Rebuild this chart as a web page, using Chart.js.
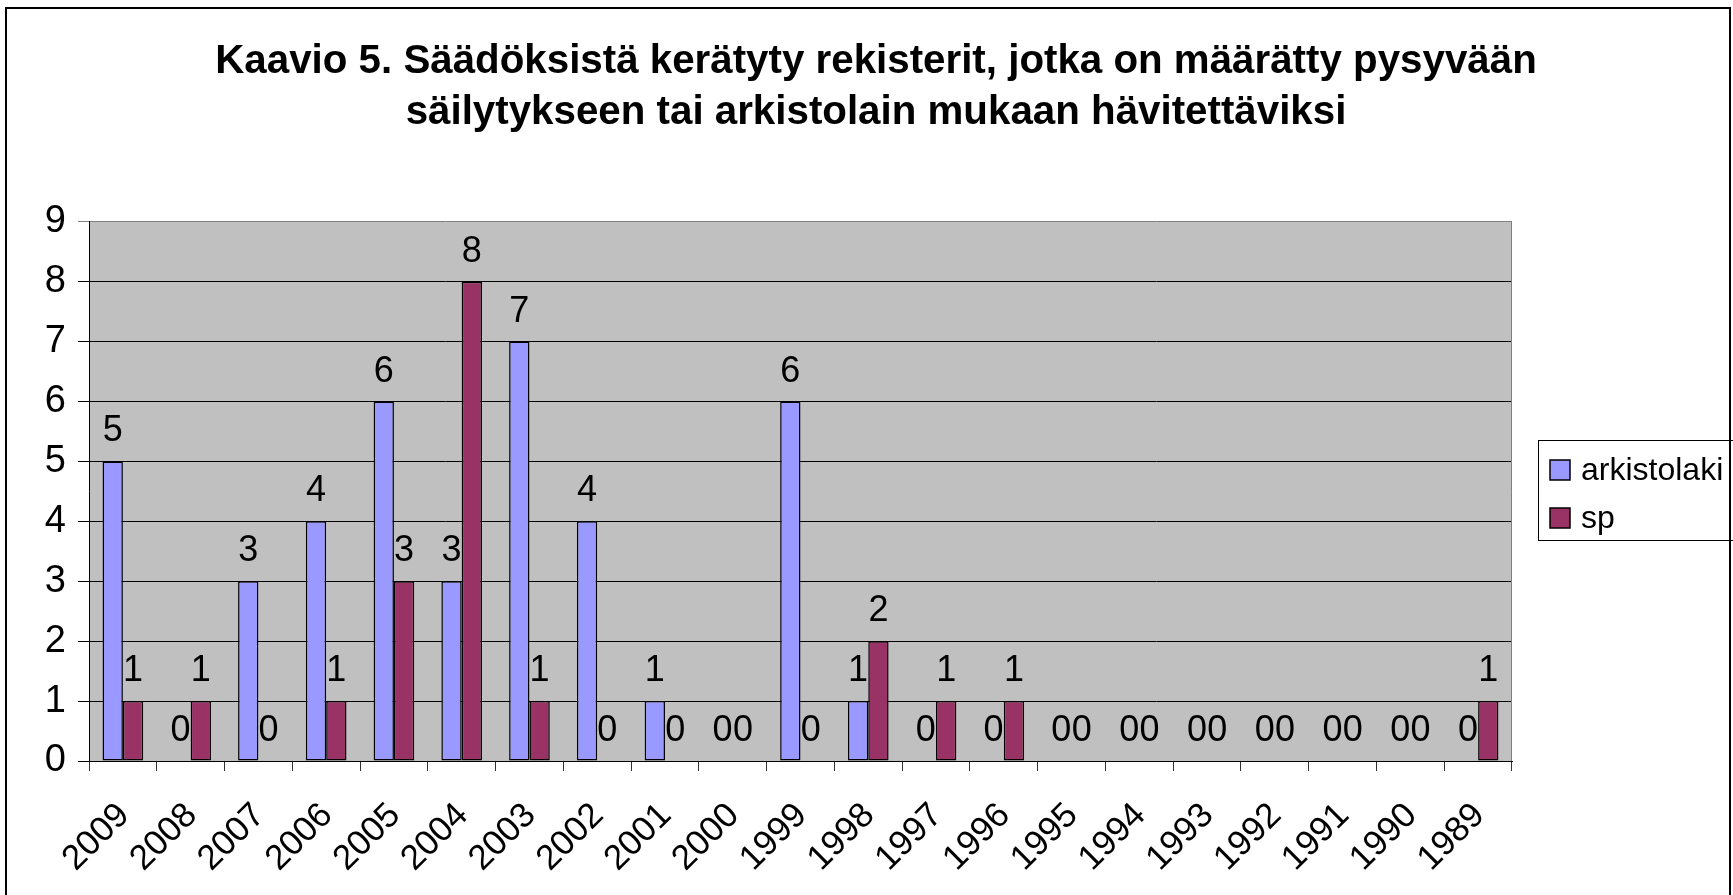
<!DOCTYPE html>
<html>
<head>
<meta charset="utf-8">
<script src="https://cdn.jsdelivr.net/npm/chart.js@4.4.1/dist/chart.umd.min.js"></script>
<style>
html,body{margin:0;padding:0;background:#fff;}
#wrap{width:1733px;height:895px;position:relative;}
canvas{display:block;}
</style>
</head>
<body>
<div id="wrap"><canvas id="c" width="1733" height="895"></canvas></div>
<script>
// ---- data ----
const categories = ['2009','2008','2007','2006','2005','2004','2003','2002','2001','2000','1999','1998','1997','1996','1995','1994','1993','1992','1991','1990','1989'];
const arkistolaki = [5,0,3,4,6,3,7,4,1,0,6,1,0,0,0,0,0,0,0,0,0];
const sp =          [1,1,0,1,3,8,1,0,0,0,0,2,1,1,0,0,0,0,0,0,1];
const seriesNames = ['arkistolaki','sp'];
const seriesColors = ['#9999FF','#993366'];
const yMin = 0, yMax = 9, yStep = 1;
const titleLines = ['Kaavio 5. Säädöksistä kerätyty rekisterit, jotka on määrätty pysyvään','säilytykseen tai arkistolain mukaan hävitettäviksi'];

const FONT = "'Liberation Sans', Arial, sans-serif";

const decorPlugin = {
  id: 'decor',
  beforeDraw(chart) {
    const {ctx, chartArea: a} = chart;
    ctx.save();
    ctx.fillStyle = '#C0C0C0';
    ctx.fillRect(a.left, a.top, a.right - a.left, a.bottom - a.top);
    ctx.restore();
  },
  afterDraw(chart) {
    const {ctx, chartArea: a} = chart;
    ctx.save();
    ctx.strokeStyle = '#808080';
    ctx.lineWidth = 1;
    ctx.beginPath();
    ctx.moveTo(Math.round(a.right) - 0.5, a.top);
    ctx.lineTo(Math.round(a.right) - 0.5, a.bottom);
    ctx.stroke();
    ctx.strokeStyle = '#000';
    ctx.lineWidth = 2;
    ctx.strokeRect(6, 8, 1724, 900);
    ctx.lineWidth = 1;
    ctx.strokeStyle = '#000';
    ctx.strokeRect(1538.5, 440.5, 1192, 100);
    ctx.font = '32px ' + FONT;
    ctx.textAlign = 'left';
    ctx.textBaseline = 'alphabetic';
    const ys = [460, 508];
    chart.data.datasets.forEach((ds, i) => {
      ctx.fillStyle = ds.backgroundColor;
      ctx.fillRect(1550, ys[i], 20, 20);
      ctx.lineWidth = 1.5;
      ctx.strokeStyle = '#000';
      ctx.strokeRect(1550, ys[i], 20, 20);
      ctx.fillStyle = '#000';
      ctx.fillText(ds.label, 1581, ys[i] + 20);
    });
    ctx.restore();
  },
  afterDatasetsDraw(chart) {
    const {ctx} = chart;
    ctx.save();
    ctx.font = '36px ' + FONT;
    ctx.fillStyle = '#000';
    ctx.textAlign = 'center';
    ctx.textBaseline = 'alphabetic';
    chart.data.datasets.forEach((ds, i) => {
      const meta = chart.getDatasetMeta(i);
      meta.data.forEach((bar, j) => {
        ctx.fillText(String(ds.data[j]), bar.x, bar.y - 20);
      });
    });
    ctx.restore();
  }
};

new Chart(document.getElementById('c'), {
  type: 'bar',
  data: {
    labels: categories,
    datasets: [
      {label: seriesNames[0], data: arkistolaki, backgroundColor: seriesColors[0], borderColor: '#000', borderWidth: 1.5, borderSkipped: false},
      {label: seriesNames[1], data: sp, backgroundColor: seriesColors[1], borderColor: '#000', borderWidth: 1.5, borderSkipped: false}
    ]
  },
  options: {
    responsive: false,
    animation: false,
    devicePixelRatio: 1,
    layout: {padding: {left: 19, right: 0, top: 37, bottom: 0}},
    datasets: {bar: {categoryPercentage: 0.6, barPercentage: 1.0}},
    plugins: {
      legend: {display: false},
      tooltip: {enabled: false},
      title: {
        display: true,
        text: titleLines,
        color: '#000',
        font: {family: FONT, size: 40.3, weight: 'bold', lineHeight: 1.25},
        padding: {top: 0, bottom: 84}
      }
    },
    scales: {
      x: {
        type: 'category',
        offset: true,
        grid: {display: true, drawOnChartArea: false, drawTicks: true, tickLength: 10, color: '#333', offset: true},
        border: {display: true, color: '#000', width: 1},
        ticks: {autoSkip: false, maxRotation: 45, minRotation: 45, color: '#000', font: {family: FONT, size: 35}, padding: 24, labelOffset: 1},
        afterFit(s) { s.height = 134; }
      },
      y: {
        min: yMin, max: yMax,
        grid: {color: (c) => (c.tick && c.tick.value === yMax ? '#808080' : '#000'), lineWidth: 1, tickLength: 11, drawTicks: true},
        border: {display: true, color: '#000', width: 1},
        ticks: {stepSize: yStep, color: '#000', font: {family: FONT, size: 38}, padding: 12},
        afterFit(s) { s.width = 70; }
      },
      yR: {
        position: 'right',
        display: true,
        grid: {display: false, drawTicks: false},
        border: {display: false},
        ticks: {display: false},
        afterFit(s) { s.width = 221; }
      }
    }
  },
  plugins: [decorPlugin]
});
</script>
</body>
</html>
